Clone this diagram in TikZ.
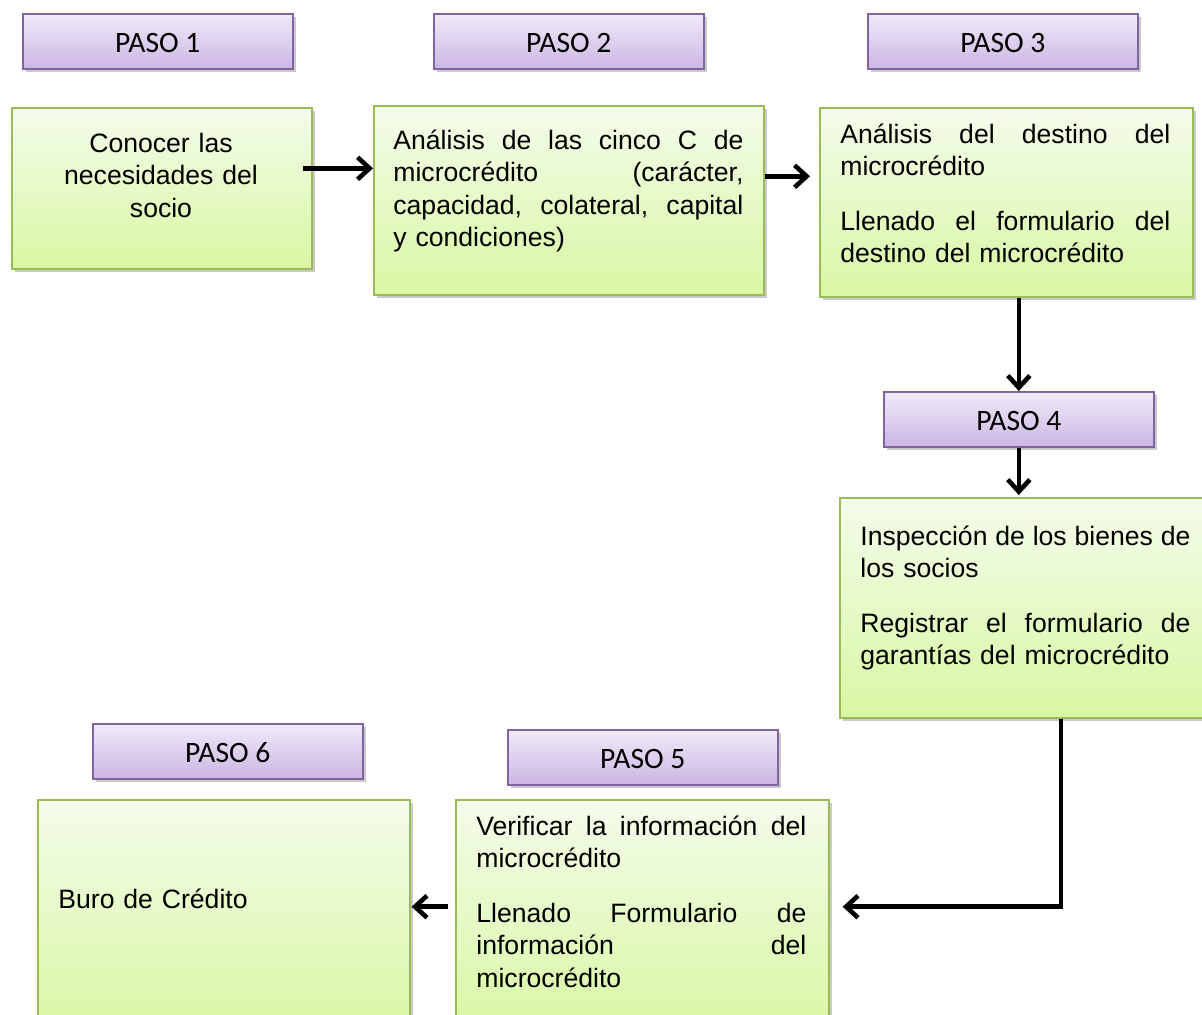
\documentclass[tikz,border=0pt]{standalone}
\usepackage{fontspec}
\setmainfont{Liberation Sans}
\newfontfamily\pasofamily{Carlito}
\usetikzlibrary{arrows.meta,shadows,calc}
\definecolor{pasotop}{HTML}{F0EAF9}
\definecolor{pasobot}{HTML}{CBB6E3}
\definecolor{pasoline}{HTML}{8064A2}
\definecolor{greentop}{HTML}{F4FCEB}
\definecolor{greenbot}{HTML}{D8F7A3}
\definecolor{greenline}{HTML}{9BBB59}
\newcommand\myjl[2]{\leavevmode\hbox to #1{\spaceskip=0.278em plus 1fil\relax #2}}
\tikzset{
  shadowed/.style={drop shadow={shadow xshift=1.6pt, shadow yshift=-1.8pt, fill=black!60, opacity=0.35}},
  pasobox/.style={draw=pasoline, line width=0.8pt, top color=pasotop, bottom color=pasobot,
    minimum width=135pt, minimum height=27.5pt, inner sep=0pt, anchor=north west, shadowed,
    text height=11pt, text depth=0pt,
    font=\pasofamily\fontsize{14.8}{16}\selectfont},
  greenbox/.style={draw=greenline, line width=0.8pt, top color=greentop, bottom color=greenbot,
    inner sep=0pt, anchor=north west, shadowed},
  bodytext/.style={inner sep=0pt, anchor=base west, align=left, font=\fontsize{13.3}{16.3}\selectfont},
  flow/.style={line width=2.3pt, -{Straight Barb[length=6pt,width=11pt]}}
}
\begin{document}
\begin{tikzpicture}[x=0.5pt,y=-0.5pt]
\useasboundingbox (0,0) rectangle (1202,1014);
\clip (0,0) rectangle (1202,1014);
% PASO labels
\node[pasobox] (p1) at (22,13) {PASO 1};
\node[pasobox] (p2) at (433,13) {PASO 2};
\node[pasobox] (p3) at (867,13) {PASO 3};
\node[pasobox] (p4) at (883,391) {PASO 4};
\node[pasobox] (p5) at (507,729) {PASO 5};
\node[pasobox] (p6) at (92,723) {PASO 6};
% green boxes
\node[greenbox, minimum width=150pt, minimum height=80.5pt] (b1) at (11,107) {};
\node[greenbox, minimum width=195pt, minimum height=94.5pt] (b2) at (373,105) {};
\node[greenbox, minimum width=186.5pt, minimum height=94.5pt] (b3) at (819,107) {};
\node[greenbox, minimum width=188pt, minimum height=110pt] (b4) at (839,497) {};
\node[greenbox, minimum width=186.5pt, minimum height=115.5pt] (b5) at (455,799) {};
\node[greenbox, minimum width=186pt, minimum height=115.5pt] (b6) at (37,799) {};
% texts
\node[inner sep=0pt, anchor=base, align=center, text width=150pt, font=\fontsize{13.3}{16.3}\selectfont] (t1) at (161,152)
  {Conocer las\\necesidades del\\socio};
\node[bodytext, text width=175pt] (t2) at (393,149)
  {\myjl{175pt}{Análisis de las cinco C de}\\
   \myjl{175pt}{microcrédito (carácter,}\\
   \myjl{175pt}{capacidad, colateral, capital}\\
   y condiciones)};
\node[bodytext, text width=165pt] (t3) at (840,143)
  {\myjl{165pt}{Análisis del destino del}\\
   microcrédito\\[11pt]
   \myjl{165pt}{Llenado el formulario del}\\
   destino del microcrédito};
\node[bodytext, text width=165pt] (t4) at (860,545)
  {\myjl{165pt}{Inspección de los bienes de}\\
   los socios\\[11pt]
   \myjl{165pt}{Registrar el formulario de}\\
   garantías del microcrédito};
\node[bodytext, text width=165pt] (t5) at (476,835)
  {\myjl{165pt}{Verificar la información del}\\
   microcrédito\\[11pt]
   \myjl{165pt}{Llenado Formulario de}\\
   \myjl{165pt}{información del}\\
   microcrédito};
\node[bodytext, text width=165pt] (t6) at (58,908) {Buro de Crédito};
% connectors
\draw[flow] ([xshift=-5pt,yshift=10pt]b1.east) -- ([yshift=10pt]b1.east -| b2.west);
\draw[flow] ([yshift=12pt]b2.east) -- ([xshift=-4.5pt,yshift=12pt]b2.east -| b3.west);
\draw[flow] (b3.south -| p4.north) -- (p4.north);
\draw[flow] (p4.south) -- ([yshift=1pt]b4.north -| p4.south);
\draw[flow] ([xshift=16.5pt]b4.south) |- ([xshift=6.5pt,yshift=4.3pt]b5.east);
\draw[flow] ([xshift=-3.5pt,yshift=4.3pt]b5.west) -- ([xshift=0.5pt,yshift=4.3pt]b6.east);
\end{tikzpicture}
\end{document}
